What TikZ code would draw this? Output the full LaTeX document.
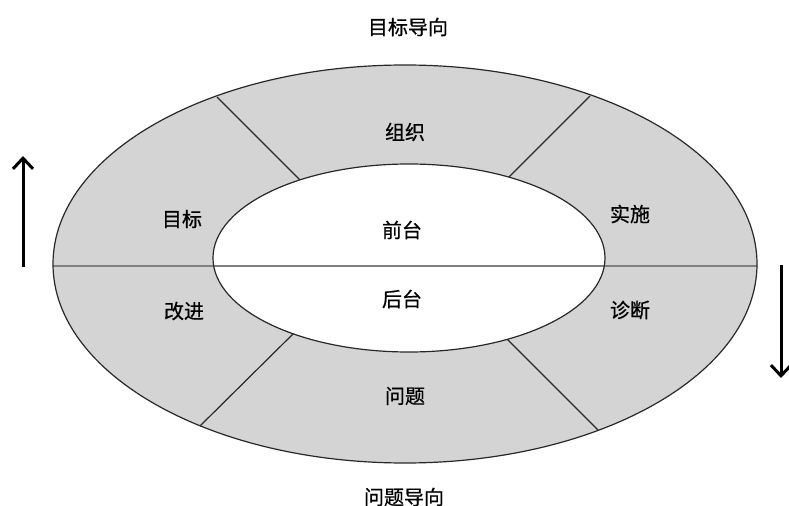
\documentclass[tikz,border=0pt]{standalone}
\usepackage{fontspec}
\setmainfont[FakeBold=0.6]{Noto Sans CJK SC}
\usetikzlibrary{arrows.meta}
\definecolor{ringgray}{RGB}{212,212,212}
\definecolor{edgegray}{RGB}{40,40,40}
\definecolor{midgray}{RGB}{128,128,128}

\tikzset{
  lbl/.style={inner sep=0.75pt, font=\fontsize{15}{18}\selectfont},
  rim/.style={draw=edgegray, line width=0.9pt},
  spoke/.style={draw=edgegray, line width=0.9pt},
  flow/.style={line width=2.25pt, -{Straight Barb[length=8pt,width=15pt]}},
}

\begin{document}
\begin{tikzpicture}[x=0.75pt,y=0.75pt,yscale=-1,xscale=1]
        \useasboundingbox (0,0) rectangle (789,506);

        %Shape: Ellipse (ring)
        \fill [ringgray] (405,264) ellipse [x radius=352, y radius=199];

        % spoke ends
        \coordinate (ul-out) at (217,97);
        \coordinate (ul-in) at (302,182);
        \coordinate (ur-out) at (590,96);
        \coordinate (ur-in) at (507,179);
        \coordinate (lr-in) at (506,338);
        \coordinate (lr-out) at (598,430);
        \coordinate (ll-in) at (295,332);
        \coordinate (ll-out) at (200,426);
        \coordinate (mid-l) at (53,266);
        \coordinate (mid-r) at (757,266);

        %Straight Lines
        \draw [spoke] (ul-out) -- (ul-in);
        \draw [spoke] (ur-out) -- (ur-in);
        \draw [spoke] (lr-in) -- (lr-out);
        \draw [spoke] (ll-in) -- (ll-out);

        %Shape: Ellipse (hub)
        \fill [white] (409,258) ellipse [x radius=196, y radius=94];

        %Straight Lines
        \draw [midgray, line width=1.5pt] (mid-l) -- (mid-r);

        %Shape: Ellipse outlines
        \draw [rim] (405,264) ellipse [x radius=352, y radius=199];
        \draw [rim] (409,258) ellipse [x radius=196, y radius=94];

        %Arrows
        \coordinate (up-a) at (23,267);
        \coordinate (up-b) at (23,156);
        \coordinate (dn-a) at (781,265);
        \coordinate (dn-b) at (781,378);
        \draw [flow] (up-a) -- (up-b);
        \draw [flow] (dn-a) -- (dn-b);

        % Text Node
        \node [lbl] (goaldir) at (408,27) {目标导向};
        % Text Node
        \node [lbl] (org) at (405,132) {组织};
        % Text Node
        \node [lbl] (goal) at (182,219) {目标};
        % Text Node
        \node [lbl] (impl) at (630,214) {实施};
        % Text Node
        \node [lbl] (front) at (402,230) {前台};
        % Text Node
        \node [lbl] (back) at (402,299) {后台};
        % Text Node
        \node [lbl] (improve) at (184,311) {改进};
        % Text Node
        \node [lbl] (diag) at (630,310) {诊断};
        % Text Node
        \node [lbl] (prob) at (405,396) {问题};
        % Text Node
        \node [lbl] (probdir) at (404,497) {问题导向};

\end{tikzpicture}
\end{document}
